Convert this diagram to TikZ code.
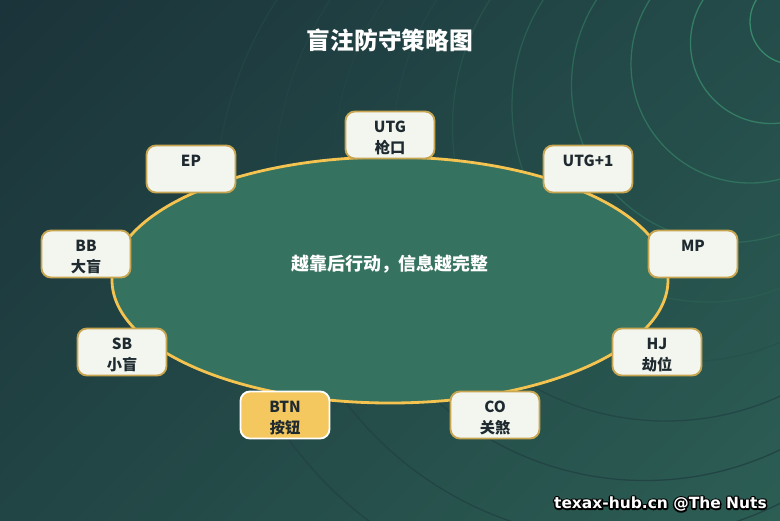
\documentclass[tikz,border=0pt]{standalone}
\usepackage{fontspec}
\usepackage{xcolor}
\usepackage{tikz}
\usetikzlibrary{positioning,shadings}
\newfontfamily\cjkfont{Noto Sans CJK SC}
\newfontfamily\markfont{DejaVu Sans}
\definecolor{bgtl}{RGB}{27,51,58}
\definecolor{bgtr}{RGB}{36,76,74}
\definecolor{bgbl}{RGB}{33,68,68}
\definecolor{bgbr}{RGB}{44,94,84}
\definecolor{ripplein}{RGB}{56,136,106}
\definecolor{rippleout}{RGB}{34,68,68}
\definecolor{feltgreen}{RGB}{54,114,96}
\definecolor{railgold}{RGB}{245,195,80}
\definecolor{seatfill}{RGB}{243,246,239}
\definecolor{seatline}{RGB}{200,165,80}
\definecolor{seattext}{RGB}{30,42,48}
\definecolor{btnfill}{RGB}{245,200,95}
\newcommand{\seatlbl}[2]{\rule{0pt}{17.7pt}#1\\\rule[-4.3pt]{0pt}{4.3pt}#2}
\newcommand{\marktext}{texax-hub.cn @The Nuts}

\begin{document}
\begin{tikzpicture}[x=0.03cm,y=-0.03cm,
  seatbox/.style={draw=seatline,line width=1.6pt,fill=seatfill,rounded corners=8pt,
    minimum width=2.67cm,minimum height=1.41cm,inner sep=0pt,align=center,
    text=seattext,font=\cjkfont\bfseries\fontsize{13}{18}\selectfont},
  btnbox/.style={seatbox,draw=white,fill=btnfill}]
  % ---- background with ripples ----
  \shade[upper left=bgtl,upper right=bgtr,lower left=bgbl,lower right=bgbr]
    (0,0) rectangle (780,520);
  \useasboundingbox (0,0) rectangle (780,520);
  \clip (0,0) rectangle (780,520);
  \foreach \k in {0,...,9}{
    \pgfmathtruncatemacro\mix{max(0,100-\k*16)}
    \draw[ripplein!\mix!rippleout,line width=1.1pt]
      ({792-21*\k},{22+21*\k}) circle ({42+38.5*\k});}
  % ---- table ----
  \draw[fill=feltgreen,draw=railgold,line width=2.4pt] (390,280) ellipse (278 and 123);
  \node[text=white,font=\cjkfont\bfseries\fontsize{15.3}{18}\selectfont] (hint) at (390,264)
    {越靠后行动，信息越完整};
  \node[text=white,font=\cjkfont\bfseries\fontsize{20.3}{24}\selectfont] (title) at (390,40)
    {盲注防守策略图};
  % ---- seats ----
  \node[seatbox] (utg)  at (390,135) {\seatlbl{UTG}{枪口}};
  \node[seatbox] (utg1) at (588,169) {\seatlbl{UTG+1}{}};
  \node[seatbox] (mp)   at (693,254) {\seatlbl{MP}{}};
  \node[seatbox] (hj)   at (657,352) {\seatlbl{HJ}{劫位}};
  \node[seatbox] (co)   at (495,415) {\seatlbl{CO}{关煞}};
  \node[btnbox]  (btn)  at (285,415) {\seatlbl{BTN}{按钮}};
  \node[seatbox] (sb)   at (122,352) {\seatlbl{SB}{小盲}};
  \node[seatbox] (bb)   at (86,254)  {\seatlbl{BB}{大盲}};
  \node[seatbox] (ep)   at (191,169) {\seatlbl{EP}{}};
  % ---- watermark (black outline under white) ----
  \node[anchor=east,inner sep=0pt,text=white,font=\markfont\bfseries\fontsize{13.2}{15}\selectfont]
    (mark) at (767,504)
    {\rlap{\special{pdf:literal direct 0 G 1 j 2.6 w 1 Tr}\marktext\special{pdf:literal direct 0 Tr}}\marktext};
\end{tikzpicture}
\end{document}
